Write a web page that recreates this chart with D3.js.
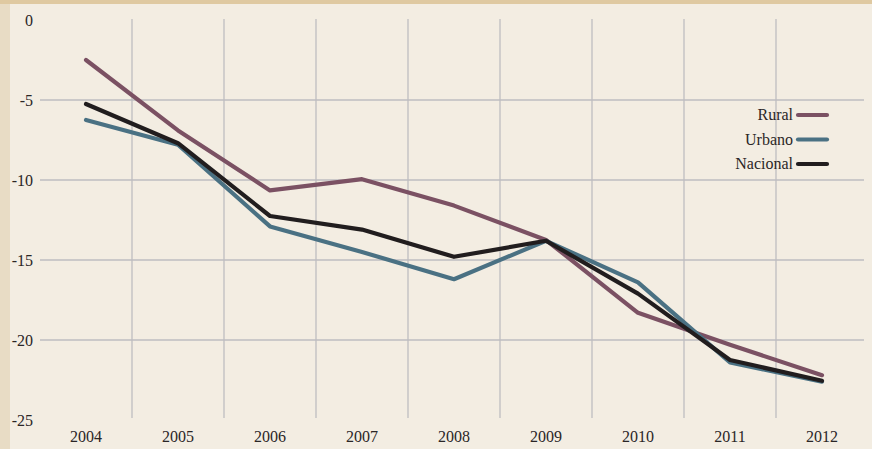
<!DOCTYPE html>
<html><head><meta charset="utf-8">
<script src="https://cdn.jsdelivr.net/npm/d3@7"></script>
<style>body{margin:0;background:#f3ede2;}svg{display:block;} text{font-family:"Liberation Serif","Times New Roman",serif;}</style>
</head><body>
<svg id="c" width="872" height="449"></svg>
<script>
const years = ["2004","2005","2006","2007","2008","2009","2010","2011","2012"];
const rural = [-2.5,-6.9,-10.65,-9.95,-11.6,-13.75,-18.3,-20.3,-22.2];
const urbano = [-6.25,-7.8,-12.9,-14.5,-16.2,-13.8,-16.4,-21.4,-22.6];
const nacional = [-5.25,-7.7,-12.25,-13.1,-14.8,-13.8,-17.1,-21.25,-22.55];
const yTicks = [0,-5,-10,-15,-20,-25];
const seriesNames = ["Rural","Urbano","Nacional"];
const seriesColors = ["#7b5163","#4a7183","#211d1e"];
const seriesData = [rural, urbano, nacional];

const svg = d3.select("#c");
svg.append("rect").attr("width",872).attr("height",449).attr("fill","#f3ede2");
svg.append("rect").attr("width",10).attr("height",449).attr("fill","#e8dcc5");
svg.append("rect").attr("width",872).attr("height",4).attr("fill","#dfc9a1");

const x = d3.scaleBand().domain(years).range([40,868]);
const y = d3.scaleLinear().domain([-25,0]).range([420,20]);
const font = "Liberation Serif";

svg.append("g").selectAll("line").data(yTicks.filter(d=>d!==0 && d!==-25)).join("line")
  .attr("x1",40).attr("x2",864).attr("y1",d=>y(d)).attr("y2",d=>y(d))
  .attr("stroke","#bebdc0").attr("stroke-width",1.3);
svg.append("g").selectAll("line").data(years.slice(1)).join("line")
  .attr("x1",d=>x(d)).attr("x2",d=>x(d)).attr("y1",19).attr("y2",418)
  .attr("stroke","#bebdc0").attr("stroke-width",1.3);

const yAxis = d3.axisLeft(y).tickValues(yTicks).tickSize(0).tickPadding(0).tickFormat(d=>d);
const ya = svg.append("g").attr("transform","translate(33,0)").call(yAxis);
ya.select(".domain").remove();
ya.attr("font-family",null);
ya.selectAll("text").style("font-family",font).attr("font-size",16).attr("fill","#2a2626");

const xAxis = d3.axisBottom(x).tickSize(0).tickPadding(0);
const xa = svg.append("g").attr("transform","translate(0,431)").call(xAxis);
xa.select(".domain").remove();
xa.attr("font-family",null);
xa.selectAll("text").style("font-family",font).attr("font-size",16).attr("fill","#2a2626");

const line = d3.line().x((d,i)=>x(years[i])+x.bandwidth()/2).y(d=>y(d));
seriesData.forEach((s,k)=>{
  svg.append("path").datum(s).attr("d",line).attr("fill","none")
    .attr("stroke",seriesColors[k]).attr("stroke-width",4.2)
    .attr("stroke-linecap","round").attr("stroke-linejoin","round");
});

const lg = svg.append("g");
seriesNames.forEach((n,k)=>{
  const yy = 115 + k*24.5;
  lg.append("line").attr("x1",798).attr("x2",827).attr("y1",yy).attr("y2",yy)
    .attr("stroke",seriesColors[k]).attr("stroke-width",4.2).attr("stroke-linecap","round");
  lg.append("text").attr("x",793).attr("y",yy+5).attr("text-anchor","end")
    .style("font-family",font).attr("font-size",16).attr("fill","#2a2626").text(n);
});
</script>
</body></html>
